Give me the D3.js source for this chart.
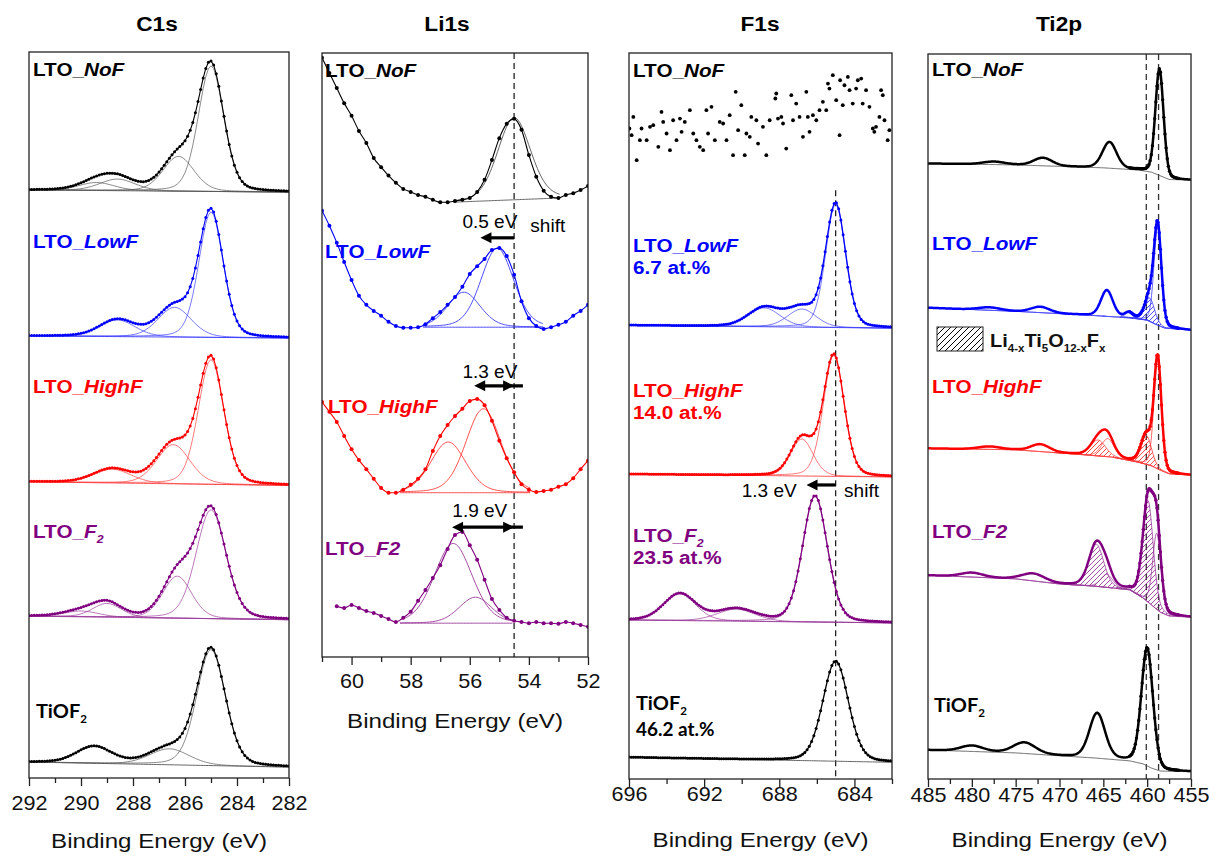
<!DOCTYPE html>
<html><head><meta charset="utf-8">
<script src="https://cdn.jsdelivr.net/npm/d3@7"></script>
<style>body{margin:0;background:#fff}</style>
</head><body>
<svg id="chart" width="1220" height="859"></svg>
<script>
// ================= DATA =================
const seriesNames = ["LTO_NoF", "LTO_LowF", "LTO_HighF", "LTO_F2", "TiOF2"];

// ---- C1s (intensity in a.u., 0-100 per panel); background given at 292 eV and 282 eV
const c1sTicks = [292, 290, 288, 286, 284, 282];
const c1sMinorTicks = [291, 289, 287, 285, 283];
const c1sBackground = [[81.0, 80.7], [60.9, 60.6], [40.8, 40.3], [22.3, 21.8], [2.2, 1.5]];
// fitted components: [centre eV, height, FWHM eV]
const c1sPeaks = [
  [[285.0, 17.3, 1.15], [286.25, 4.8, 1.4], [288.6, 1.6, 1.6], [289.4, 1.1, 1.6]],
  [[285.0, 17.3, 1.1], [286.4, 4.1, 1.5], [288.6, 2.3, 1.6]],
  [[285.0, 17.2, 1.15], [286.45, 5.4, 1.5], [288.8, 1.9, 1.7]],
  [[285.0, 15.0, 1.35], [286.3, 5.8, 1.3], [289.0, 1.9, 1.3], [290.0, 0.8, 1.6]],
  [[285.0, 16.0, 1.3], [286.6, 2.2, 1.8]]
];
const c1sUnfitted = [[], [], [], [], [[289.5, 2.3, 1.6]]];

// ---- Li1s (measured points)
const li1sTicks = [60, 58, 56, 54, 52];
const li1sMinorTicks = [61, 59, 57, 55, 53];
const li1sEnergy = [61, 60.75, 60.5, 60.25, 60, 59.75, 59.5, 59.25, 59, 58.75, 58.5, 58.25, 58, 57.75, 57.5, 57.25, 57, 56.75, 56.5, 56.25, 56, 55.75, 55.5, 55.25, 55, 54.75, 54.5, 54.25, 54, 53.75, 53.5, 53.25, 53, 52.75, 52.5, 52.25, 52];
const li1sNoF = [99.2, 96.7, 94.2, 91.7, 89.6, 87.1, 85.1, 82.6, 81.1, 79.7, 78.5, 77.5, 77.0, 76.5, 76.2, 75.7, 75.3, 75.3, 75.5, 75.7, 76.0, 77.0, 79.0, 82.3, 85.9, 88.3, 89.1, 87.3, 83.1, 79.5, 77.2, 76.2, 76.0, 76.5, 76.8, 77.3, 78.0];
const li1sLowF = [73.9, 71.4, 68.6, 65.4, 62.4, 59.8, 58.3, 57.3, 56.5, 55.5, 54.8, 54.5, 54.5, 54.6, 55.1, 56.1, 57.1, 58.3, 59.6, 61.3, 63.4, 64.7, 65.9, 67.4, 67.7, 66.4, 63.3, 58.9, 56.1, 54.8, 54.3, 54.6, 55.0, 55.5, 56.5, 57.3, 58.3];
const li1sHighF = [42.2, 40.6, 38.9, 36.6, 34.4, 32.6, 31.1, 29.5, 28.0, 27.2, 27.2, 27.7, 28.5, 29.5, 31.1, 34.1, 36.6, 38.4, 39.9, 41.1, 42.4, 42.7, 41.7, 39.1, 35.8, 32.9, 30.6, 28.6, 27.7, 27.3, 27.5, 27.7, 28.2, 28.6, 29.6, 31.1, 32.5];
const li1sF2 = [null, null, 8.4, 8.1, 8.6, 8.1, 7.6, 7.3, 6.8, 6.3, 5.8, 6.5, 7.5, 9.3, 11.1, 13.1, 15.2, 17.9, 20.2, 20.7, 18.5, 16.1, 12.8, 9.6, 7.8, 6.5, 6.0, 5.8, 5.6, 5.8, 5.6, 5.6, 5.5, 5.8, 5.6, 5.3, 5.0];
// fit baseline: [E start, I start, E end, I end]
const li1sFitBaseline = [[56.56, 75.3, 52.93, 76.0], [57.58, 54.6, 53.51, 54.6], [58.36, 27.2, 53.95, 27.2], [58.36, 5.6, 54.53, 5.6]];
const li1sPeaks = [
  [[54.5, 13.6, 1.3]],
  [[56.2, 5.8, 1.3], [55.07, 13.1, 1.3]],
  [[56.73, 8.4, 1.4], [55.54, 13.9, 1.4]],
  [[56.56, 13.2, 1.5], [55.81, 4.3, 1.3]]
];
const li1sReference = 54.5;
const li1sShiftLabels = ["0.5 eV", "1.3 eV", "1.9 eV"];
const li1sShiftValues = [1.14, 1.35, 2.1];

// ---- F1s
const f1sTicks = [696, 692, 688, 684];
const f1sMinorTicks = [694, 690, 686, 682];
const f1sNoF = [[695.98, 89.6], [695.86, 88.68], [695.77, 91.2], [695.59, 85.24], [695.42, 87.99], [695.33, 89.6], [695.06, 87.99], [694.88, 89.83], [694.71, 90.06], [694.44, 87.07], [694.27, 91.89], [694.18, 90.51], [694.0, 88.91], [693.82, 86.61], [693.65, 90.74], [693.47, 87.99], [693.29, 90.97], [693.2, 89.14], [693.03, 90.51], [692.76, 92.12], [692.58, 88.91], [692.41, 87.99], [692.23, 87.07], [692.05, 86.61], [691.88, 92.12], [691.79, 88.91], [691.61, 92.58], [691.43, 87.99], [691.17, 90.51], [690.99, 90.29], [690.81, 87.99], [690.64, 91.43], [690.46, 85.93], [690.32, 94.65], [690.19, 89.37], [690.02, 92.81], [689.84, 85.93], [689.75, 88.91], [689.57, 88.45], [689.49, 91.2], [689.22, 90.74], [689.13, 87.53], [688.87, 89.83], [688.69, 85.93], [688.51, 90.74], [688.21, 93.73], [688.16, 94.42], [688.07, 90.97], [687.89, 91.2], [687.8, 90.29], [687.63, 86.84], [687.36, 94.19], [687.27, 90.74], [687.1, 93.04], [686.92, 91.2], [686.74, 88.45], [686.56, 94.65], [686.48, 91.2], [686.39, 89.14], [686.21, 91.43], [686.03, 90.74], [685.86, 92.12], [685.68, 93.27], [685.5, 92.12], [685.41, 95.79], [685.33, 95.1], [685.15, 96.94], [684.97, 93.5], [684.79, 88.68], [684.76, 96.25], [684.62, 92.81], [684.53, 95.56], [684.35, 96.71], [684.26, 94.88], [684.09, 93.04], [683.91, 95.1], [683.82, 96.25], [683.64, 96.48], [683.56, 93.04], [683.38, 94.88], [683.2, 92.58], [683.02, 89.6], [682.94, 89.14], [682.85, 89.83], [682.67, 91.2], [682.58, 94.88], [682.49, 94.19], [682.4, 90.74], [682.23, 87.99], [682.14, 89.37]];
const f1sBackground = [[62.5, 62.1], [42.0, 41.6], [21.9, 21.5], [3.0, 2.3]]; // LowF, HighF, F2, TiOF2 at 696 / 682 eV
const f1sPeaks = [
  [[685.0, 17.0, 1.25], [686.8, 2.5, 1.8], [688.8, 2.6, 2.0]],
  [[685.1, 16.7, 1.3], [686.8, 5.1, 1.4]],
  [[686.1, 17.4, 1.55], [690.3, 1.65, 2.4], [693.3, 3.7, 2.0]],
  [[685.0, 13.8, 1.6]]
];
const f1sAtPercent = ["6.7 at.%", "14.0 at.%", "23.5 at.%", "46.2 at.%"];
const f1sReference = 685.0;
const f1sShift = 1.55;

// ---- Ti2p
const ti2pTicks = [485, 480, 475, 470, 465, 460, 455];
const ti2pMinorTicks = [482.5, 477.5, 472.5, 467.5, 462.5, 457.5];
const ti2pBackground = [
  [[485, 84.9], [475, 84.7], [465, 84.3], [461, 84.0], [459.5, 83.7], [458.5, 83.2], [457.5, 82.7], [455, 82.6]],
  [[485, 65.0], [475, 64.5], [467, 64.0], [462, 63.6], [460, 63.3], [459, 62.7], [458, 62.2], [455, 61.9]],
  [[485, 45.6], [475, 45.4], [468, 44.8], [464, 44.4], [461, 43.7], [459.5, 43.2], [458.5, 42.6], [457.5, 42.1], [455, 41.9]],
  [[485, 28.1], [475, 27.6], [470, 26.9], [466, 26.6], [462, 26.1], [460.5, 25.0], [459.5, 24.0], [458.5, 23.0], [457.5, 22.5], [455, 22.3]],
  [[485, 4.0], [475, 3.6], [470, 3.2], [466, 2.9], [462, 2.5], [460.5, 2.1], [459.5, 1.5], [458.5, 1.1], [455, 1.0]]
];
const ti2pPeaks = [
  [[458.6, 14.7, 1.1], [464.3, 3.6, 1.9], [471.9, 1.1, 2.5], [477.5, 0.4, 3.0]],
  [[458.8, 13.5, 1.0], [464.6, 3.6, 1.6], [462.1, 0.7, 1.0], [472.2, 0.8, 2.5], [478.0, 0.4, 3.0]],
  [[458.8, 15.3, 1.0], [464.5, 2.5, 1.7], [472.2, 1.0, 2.5], [478.0, 0.4, 3.0]],
  [[458.9, 10.5, 1.1], [464.6, 1.8, 1.6], [473.0, 1.0, 3.0], [480.0, 0.6, 3.0]],
  [[460.0, 16.3, 1.55], [465.7, 6.2, 2.1], [474.0, 1.5, 3.0], [480.0, 0.8, 3.0]]
];
// Li(4-x)Ti5O(12-x)Fx components (hatched)
const ti2pLTOFPeaks = [[], [[459.7, 3.2, 1.3]], [[460.1, 4.0, 1.4], [465.6, 2.2, 2.0]], [[459.9, 14.0, 1.4], [465.8, 5.8, 2.0]], []];
const ti2pShowFit = [false, true, true, true, false];
const ti2pReferences = [460.1, 458.7];

// ================= RENDER =================
const colors = ["#000000", "#0000ff", "#ff0000", "#800080", "#000000"];
const compColors = ["#555555", "#3b3bff", "#ff3b3b", "#9a3a9a", "#555555"];
const SANS = "Arial, 'Liberation Sans', Helvetica, sans-serif";
const CAL = "Lato, 'Open Sans', sans-serif";
const svg = d3.select("#chart");
const defs = svg.append("defs");

function pv(E, p) {
  const d = (E - p[0]) / p[2];
  return p[1] * (0.8 * Math.exp(-2.7726 * d * d) + 0.2 / (1 + 4 * d * d));
}
function interp(a, E) {
  for (let k = 0; k < a.length - 1; k++) {
    const [e1, u1] = a[k], [e2, u2] = a[k + 1];
    if (E <= e1 && E >= e2) return u1 + (u2 - u1) * (e1 - E) / (e1 - e2);
  }
  return E > a[0][0] ? a[0][1] : a[a.length - 1][1];
}
function addText(g, x, y, parts, o) {
  const size = o.size || 18;
  const t = g.append("text")
    .attr("transform", `translate(${x},${y}) scale(${o.sx || 1},1)`)
    .attr("font-family", o.family || SANS).attr("font-size", size)
    .attr("font-weight", o.weight || "normal").attr("fill", o.color || "#000")
    .attr("text-anchor", o.anchor || "start");
  let shift = 0;
  parts.forEach(p => {
    if (typeof p === "string") p = {t: p};
    const ts = t.append("tspan").text(p.t);
    const target = p.sub ? Math.round(size * 0.28) : 0;
    if (target !== shift) { ts.attr("dy", target - shift); shift = target; }
    if (p.sub) ts.attr("font-size", Math.round(size * 0.6));
    if (p.i) ts.attr("font-style", "italic");
  });
  return t;
}
function arrow(g, x1, x2, y, both) {
  const hl = 11, hw = 5.5;
  const dir = x2 < x1 ? -1 : 1;
  g.append("line").attr("x1", both ? x1 - dir * hl * 0.8 : x1).attr("x2", x2 - dir * hl * 0.8)
    .attr("y1", y).attr("y2", y).attr("stroke", "#000").attr("stroke-width", 3.2);
  const head = (xt, d) => g.append("path")
    .attr("d", `M${xt},${y} L${xt - d * hl},${y - hw} L${xt - d * hl},${y + hw} Z`).attr("fill", "#000");
  head(x2, dir);
  if (both) head(x1, -dir);
}
function makePanel(cfg) {
  const x = d3.scaleLinear().domain(cfg.domain).range([cfg.left, cfg.right]);
  const y = d3.scaleLinear().domain([0, 100]).range([cfg.bottom, cfg.top]);
  const g = svg.append("g");
  defs.append("clipPath").attr("id", "clip-" + cfg.id).append("rect")
    .attr("x", cfg.left).attr("y", cfg.top).attr("width", cfg.right - cfg.left).attr("height", cfg.bottom - cfg.top);
  const plot = g.append("g").attr("clip-path", `url(#clip-${cfg.id})`);
  const minorAxis = g.append("g").attr("transform", `translate(0,${cfg.bottom})`)
    .call(d3.axisBottom(x).tickValues(cfg.minor).tickSize(5).tickFormat(""));
  const majorAxis = g.append("g").attr("transform", `translate(0,${cfg.bottom})`)
    .call(d3.axisBottom(x).tickValues(cfg.major).tickSize(8).tickFormat(d3.format("d")));
  [minorAxis, majorAxis].forEach(a => {
    a.select(".domain").remove();
    a.selectAll("line").attr("stroke", "#222").attr("stroke-width", 1.3);
  });
  majorAxis.selectAll("text").attr("dy", null).attr("y", cfg.tickBase - cfg.bottom)
    .attr("font-family", SANS).attr("font-size", 20).attr("fill", "#111").attr("transform", "scale(1.08,1)");
  const over = g.append("g");
  over.append("rect").attr("x", cfg.left).attr("y", cfg.top).attr("width", cfg.right - cfg.left)
    .attr("height", cfg.bottom - cfg.top).attr("fill", "none").attr("stroke", "#222").attr("stroke-width", 1.3);
  addText(over, cfg.titleX, 31, [cfg.title], {size: 21, weight: "bold", anchor: "middle", sx: 1.08});
  addText(over, (cfg.left + cfg.right) / 2, cfg.axisTitleY, ["Binding Energy (eV)"], {size: 21, anchor: "middle", sx: 1.15, color: "#111"});
  const line = d3.line().x(d => x(d[0])).y(d => y(d[1]));
  return {x, y, g, plot, over, line};
}
function hatchPattern(id, color, step, width) {
  const p = defs.append("pattern").attr("id", id).attr("patternUnits", "userSpaceOnUse")
    .attr("width", step).attr("height", step);
  p.append("path").attr("d", `M0,${step} L${step},0 M${-step / 2},${step / 2} L${step / 2},${-step / 2} M${step / 2},${step * 1.5} L${step * 1.5},${step / 2}`)
    .attr("stroke", color).attr("stroke-width", width);
}
colors.forEach((c, i) => hatchPattern("hatch" + i, c, 5, 0.7));
hatchPattern("hatchLegend", "#000", 6, 1);

const labelParts = {
  NoF: ["LTO_", {t: "NoF", i: 1}],
  LowF: ["LTO_", {t: "LowF", i: 1}],
  HighF: ["LTO_", {t: "HighF", i: 1}],
  F2sub: ["LTO_", {t: "F", i: 1}, {t: "2", i: 1, sub: 1}],
  F2: ["LTO_", {t: "F2", i: 1}],
  TiOF2: ["TiOF", {t: "2", sub: 1}]
};
const LBL = {size: 18.5, weight: "bold", sx: 1.12};

// ---------- C1s ----------
{
  const P = makePanel({id: "c1s", title: "C1s", titleX: 157, domain: [292, 282], left: 29, right: 289, top: 52, bottom: 778,
    major: c1sTicks, minor: c1sMinorTicks, tickBase: 810, axisTitleY: 848});
  const grid = d3.range(292, 281.95, -0.1);
  c1sPeaks.forEach((peaks, i) => {
    const bg = E => c1sBackground[i][0] + (c1sBackground[i][1] - c1sBackground[i][0]) * (292 - E) / 10;
    const env = E => bg(E) + d3.sum(peaks, p => pv(E, p)) + d3.sum(c1sUnfitted[i], p => pv(E, p));
    peaks.forEach(p => P.plot.append("path").attr("d", P.line(grid.map(E => [E, bg(E) + pv(E, p)])))
      .attr("fill", "none").attr("stroke", compColors[i]).attr("stroke-width", 0.8).attr("opacity", 0.85));
    P.plot.append("path").attr("d", P.line(grid.map(E => [E, bg(E)])))
      .attr("fill", "none").attr("stroke", compColors[i]).attr("stroke-width", 0.9);
    const pts = grid.map(E => [E, env(E)]);
    P.plot.append("path").attr("d", P.line(pts)).attr("fill", "none").attr("stroke", colors[i]).attr("stroke-width", 1.1);
    P.plot.selectAll(null).data(pts).join("circle").attr("cx", d => P.x(d[0])).attr("cy", d => P.y(d[1]))
      .attr("r", 1.5).attr("fill", colors[i]);
  });
  const pos = [[33, 76], [33, 248], [33, 393], [33, 538], [36, 718]];
  const keys = ["NoF", "LowF", "HighF", "F2sub", "TiOF2"];
  keys.forEach((k, i) => addText(P.over, pos[i][0], pos[i][1], labelParts[k],
    Object.assign({}, LBL, {color: colors[i]}, k === "TiOF2" ? {family: CAL, size: 19, sx: 1.05} : {})));
}

// ---------- Li1s ----------
{
  const P = makePanel({id: "li1s", title: "Li1s", titleX: 447, domain: [61, 52], left: 322, right: 588, top: 53, bottom: 657,
    major: li1sTicks, minor: li1sMinorTicks, tickBase: 688, axisTitleY: 728});
  P.plot.append("line").attr("x1", P.x(li1sReference)).attr("x2", P.x(li1sReference))
    .attr("y1", P.y(100)).attr("y2", P.y(0)).attr("stroke", "#222").attr("stroke-width", 1.3).attr("stroke-dasharray", "6,4");
  [li1sNoF, li1sLowF, li1sHighF, li1sF2].forEach((vals, i) => {
    const pts = li1sEnergy.map((E, k) => [E, vals[k]]).filter(d => d[1] != null);
    const [e1, u1, e2, u2] = li1sFitBaseline[i];
    const bg = E => u1 + (u2 - u1) * (e1 - E) / (e1 - e2);
    const fitGrid = d3.range(e1, e2 - 0.001, -0.05);
    li1sPeaks[i].forEach(p => P.plot.append("path").attr("d", P.line(fitGrid.map(E => [E, bg(E) + pv(E, p)])))
      .attr("fill", "none").attr("stroke", compColors[i]).attr("stroke-width", 0.9));
    P.plot.append("path").attr("d", P.line(fitGrid.map(E => [E, bg(E)])))
      .attr("fill", "none").attr("stroke", compColors[i]).attr("stroke-width", 0.9);
    const dataLine = d3.line().x(d => P.x(d[0])).y(d => P.y(d[1])).curve(d3.curveMonotoneX);
    P.plot.append("path").attr("d", dataLine(pts)).attr("fill", "none")
      .attr("stroke", colors[i]).attr("stroke-width", 1.1);
    P.plot.selectAll(null).data(pts).join("circle").attr("cx", d => P.x(d[0])).attr("cy", d => P.y(d[1]))
      .attr("r", 2).attr("fill", colors[i]);
  });
  const xr = P.x(li1sReference);
  addText(P.over, P.x(56.25), P.y(71.0), [li1sShiftLabels[0]], {size: 19});
  addText(P.over, P.x(53.95), P.y(70.3), ["shift"], {size: 19});
  arrow(P.over, xr, P.x(li1sReference + li1sShiftValues[0]), P.y(69.4), false);
  addText(P.over, P.x(56.25), P.y(46.2), [li1sShiftLabels[1]], {size: 19});
  arrow(P.over, xr, P.x(li1sReference + li1sShiftValues[1]), P.y(44.9), true);
  addText(P.over, P.x(56.59), P.y(23.2), [li1sShiftLabels[2]], {size: 19});
  arrow(P.over, xr, P.x(li1sReference + li1sShiftValues[2]), P.y(21.5), true);
  const pos = [[325, 77], [325, 258], [328, 413], [325, 555]];
  ["NoF", "LowF", "HighF", "F2"].forEach((k, i) => addText(P.over, pos[i][0], pos[i][1], labelParts[k],
    Object.assign({}, LBL, {color: colors[i]})));
}

// ---------- F1s ----------
{
  const P = makePanel({id: "f1s", title: "F1s", titleX: 760, domain: [696, 682], left: 629, right: 892, top: 53, bottom: 779,
    major: f1sTicks, minor: f1sMinorTicks, tickBase: 801, axisTitleY: 847});
  P.plot.append("line").attr("x1", P.x(f1sReference)).attr("x2", P.x(f1sReference))
    .attr("y1", P.y(81.1)).attr("y2", P.y(0)).attr("stroke", "#222").attr("stroke-width", 1.3).attr("stroke-dasharray", "6,4");
  P.plot.selectAll(null).data(f1sNoF).join("circle").attr("cx", d => P.x(d[0])).attr("cy", d => P.y(d[1]))
    .attr("r", 1.9).attr("fill", "#000");
  const grid = d3.range(696, 681.95, -0.12);
  f1sPeaks.forEach((peaks, j) => {
    const i = j + 1;
    const bg = E => f1sBackground[j][0] + (f1sBackground[j][1] - f1sBackground[j][0]) * (696 - E) / 14;
    const env = E => bg(E) + d3.sum(peaks, p => pv(E, p));
    if (peaks.length > 1) peaks.forEach(p => P.plot.append("path").attr("d", P.line(grid.map(E => [E, bg(E) + pv(E, p)])))
      .attr("fill", "none").attr("stroke", compColors[i]).attr("stroke-width", 0.8).attr("opacity", 0.85));
    P.plot.append("path").attr("d", P.line(grid.map(E => [E, bg(E)])))
      .attr("fill", "none").attr("stroke", compColors[i]).attr("stroke-width", 0.9);
    const pts = grid.map(E => [E, env(E)]);
    P.plot.append("path").attr("d", P.line(pts)).attr("fill", "none").attr("stroke", colors[i]).attr("stroke-width", 1.3);
    P.plot.selectAll(null).data(pts).join("circle").attr("cx", d => P.x(d[0])).attr("cy", d => P.y(d[1]))
      .attr("r", 1.5).attr("fill", colors[i]);
  });
  addText(P.over, P.x(690.0), P.y(38.8), ["1.3 eV"], {size: 19});
  addText(P.over, P.x(684.55), P.y(38.8), ["shift"], {size: 19});
  arrow(P.over, P.x(f1sReference), P.x(f1sReference + f1sShift), P.y(40.5), false);
  const pos = [[633, 77], [633, 252], [633, 397], [633, 542], [636, 710]];
  const keys = ["NoF", "LowF", "HighF", "F2sub", "TiOF2"];
  keys.forEach((k, i) => {
    const cal = k === "TiOF2";
    addText(P.over, pos[i][0], pos[i][1], labelParts[k],
      Object.assign({}, LBL, {color: colors[i]}, cal ? {family: CAL, size: 19, sx: 1.05} : {}));
    if (i > 0) addText(P.over, pos[i][0], pos[i][1] + (cal ? 26 : 21.5), [f1sAtPercent[i - 1]],
      Object.assign({}, LBL, {color: colors[i]}, cal ? {family: CAL, size: 18, sx: 1.05} : {}));
  });
}

// ---------- Ti2p ----------
{
  const P = makePanel({id: "ti2p", title: "Ti2p", titleX: 1059, domain: [485, 455], left: 928, right: 1191, top: 54, bottom: 779,
    major: ti2pTicks, minor: ti2pMinorTicks, tickBase: 802, axisTitleY: 847});
  ti2pReferences.forEach(E => P.plot.append("line").attr("x1", P.x(E)).attr("x2", P.x(E))
    .attr("y1", P.y(100)).attr("y2", P.y(0)).attr("stroke", "#333").attr("stroke-width", 1.3).attr("stroke-dasharray", "6,4"));
  const grid = d3.range(485, 454.95, -0.1);
  const dotGrid = d3.range(462.0, 456.4, -0.13);
  ti2pPeaks.forEach((peaks, i) => {
    const bgA = ti2pBackground[i];
    const bg = E => interp(bgA, E);
    const lto = ti2pLTOFPeaks[i];
    const env = E => bg(E) + d3.sum(peaks, p => pv(E, p)) + d3.sum(lto, p => pv(E, p));
    if (ti2pShowFit[i]) {
      lto.forEach(p => {
        const g2 = d3.range(p[0] + 2.6 * p[2], p[0] - 2.6 * p[2], -0.05);
        P.plot.append("path").attr("d", d3.area().x(E => P.x(E)).y0(E => P.y(bg(E))).y1(E => P.y(bg(E) + pv(E, p)))(g2))
          .attr("fill", `url(#hatch${i})`).attr("stroke", compColors[i]).attr("stroke-width", 0.8);
      });
      peaks.forEach(p => {
        const g2 = d3.range(p[0] + 3 * p[2], p[0] - 3 * p[2], -0.05);
        P.plot.append("path").attr("d", P.line(g2.map(E => [E, bg(E) + pv(E, p)])))
          .attr("fill", "none").attr("stroke", compColors[i]).attr("stroke-width", 0.8);
      });
    }
    P.plot.append("path").attr("d", P.line(grid.map(E => [E, bg(E)])))
      .attr("fill", "none").attr("stroke", i === 0 || i === 4 ? "#555" : compColors[i]).attr("stroke-width", 0.9);
    P.plot.append("path").attr("d", P.line(grid.map(E => [E, env(E)])))
      .attr("fill", "none").attr("stroke", colors[i]).attr("stroke-width", 2.5).attr("stroke-linejoin", "round");
    P.plot.selectAll(null).data(dotGrid.map(E => [E, env(E)])).join("circle")
      .attr("cx", d => P.x(d[0])).attr("cy", d => P.y(d[1])).attr("r", 1.7).attr("fill", colors[i]);
  });
  P.over.append("rect").attr("x", 937).attr("y", 327).attr("width", 46).attr("height", 24)
    .attr("fill", "url(#hatchLegend)").attr("stroke", "#222").attr("stroke-width", 1);
  addText(P.over, 990, 347, ["Li", {t: "4-x", sub: 1}, "Ti", {t: "5", sub: 1}, "O", {t: "12-x", sub: 1}, "F", {t: "x", sub: 1}],
    {size: 19, weight: "bold", sx: 1.05, color: "#111"});
  const pos = [[932, 76], [932, 250], [932, 393], [932, 538], [934, 712]];
  const keys = ["NoF", "LowF", "HighF", "F2", "TiOF2"];
  keys.forEach((k, i) => addText(P.over, pos[i][0], pos[i][1], labelParts[k],
    Object.assign({}, LBL, {color: colors[i]}, k === "TiOF2" ? {family: CAL, size: 19, sx: 1.05} : {})));
}
</script>
</body></html>
